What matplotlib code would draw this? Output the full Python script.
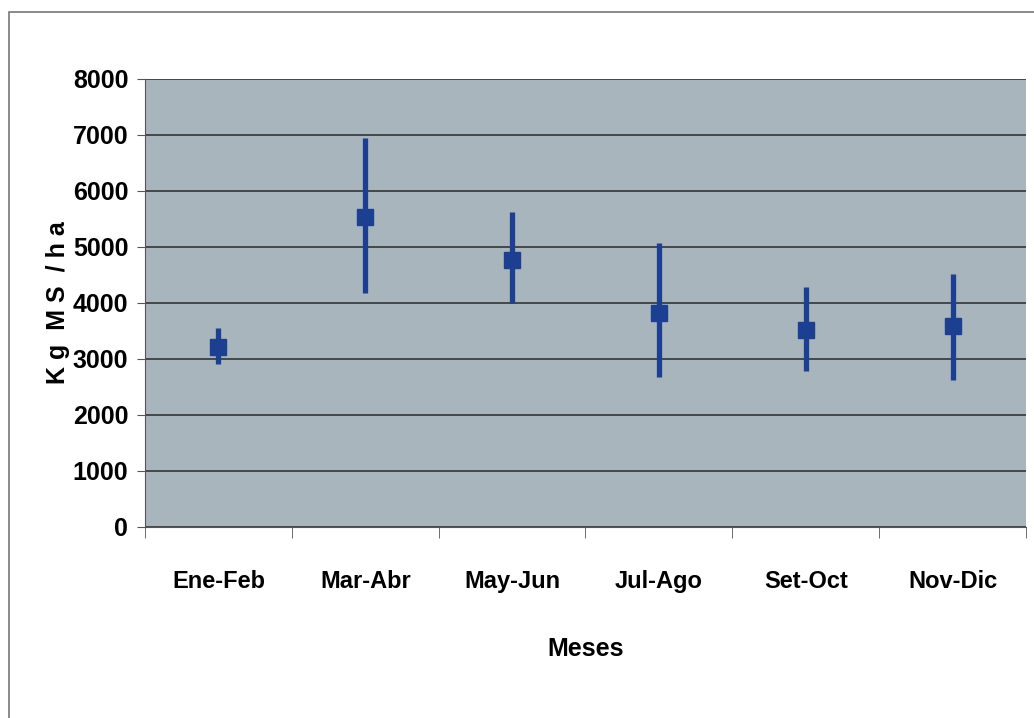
import matplotlib.pyplot as plt
from matplotlib.patches import Rectangle

# data
meses = ["Ene-Feb", "Mar-Abr", "May-Jun", "Jul-Ago", "Set-Oct", "Nov-Dic"]
media = [3210, 5530, 4770, 3820, 3520, 3590]
maximo = [3550, 6950, 5630, 5070, 4290, 4520]
minimo = [2910, 4180, 4000, 2680, 2790, 2630]

font = ['Liberation Sans Narrow', 'Liberation Sans', 'DejaVu Sans']
plt.rcParams['font.family'] = font
plt.rcParams['font.weight'] = 'bold'

fig = plt.figure(figsize=(10.34, 7.18), dpi=100)
fig.set_facecolor("white")
ax = fig.add_axes([145 / 1034, 1 - 527 / 718, 881 / 1034, 448 / 718])
ax.set_facecolor("#a9b5bc")

xpos = list(range(len(meses)))
err_lo = [m - lo for m, lo in zip(media, minimo)]
err_hi = [hi - m for m, hi in zip(media, maximo)]
ax.errorbar(xpos, media, yerr=[err_lo, err_hi], fmt="s", color="#1d3f91",
            ecolor="#1d3f91", elinewidth=3.8, markersize=11, capsize=0, zorder=3)

ax.set_xlim(-0.5, len(meses) - 0.5)
ax.set_ylim(0, 8000)
ax.set_yticks(range(0, 8001, 1000))
ax.yaxis.grid(True, color="#2a2a2a", linewidth=1.1)
ax.set_axisbelow(True)

ax.set_xticks(xpos)
ax.set_xticklabels(meses, fontsize=17, fontweight="bold")
ax.set_xticks([x + 0.5 for x in [-1] + xpos], minor=True)
ax.tick_params(axis="x", which="major", length=0, pad=31)
ax.tick_params(axis="x", which="minor", length=8, color="#555555")
ax.tick_params(axis="y", labelsize=18, length=6, pad=6, color="#555555")
for lab in ax.get_yticklabels():
    lab.set_fontweight("bold")

for s in ["top", "right"]:
    ax.spines[s].set_visible(False)
ax.spines["left"].set_color("#555555")
ax.spines["bottom"].set_color("#555555")

ax.set_xlabel("Meses", fontsize=18, fontweight="bold", labelpad=32)
ax.set_ylabel("K g  M S  / h a", fontsize=18, fontweight="bold", labelpad=2)

# outer frame of the chart
fig.patches.append(Rectangle((9 / 1034, -0.01), 1.1, 1 - 12 / 718 + 0.01,
                             transform=fig.transFigure, fill=False,
                             edgecolor="#777777", linewidth=1.2))

fig.savefig("out.png", dpi=100, facecolor="white")
